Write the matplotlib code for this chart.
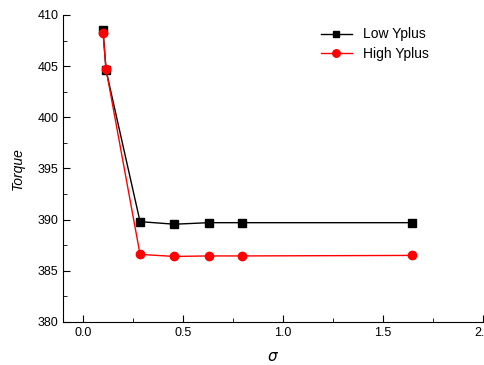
import matplotlib
matplotlib.use('Agg')
import matplotlib.pyplot as plt
from matplotlib.ticker import MultipleLocator

plt.rcParams['font.family'] = ['Liberation Sans', 'DejaVu Sans']

# Data
sigma_low = [0.10, 0.115, 0.285, 0.457, 0.628, 0.797, 1.647]
torque_low = [408.5, 404.6, 389.8, 389.55, 389.7, 389.7, 389.7]
sigma_high = [0.10, 0.115, 0.285, 0.457, 0.628, 0.797, 1.647]
torque_high = [408.2, 404.7, 386.6, 386.4, 386.45, 386.45, 386.5]

fig = plt.figure(figsize=(4.85, 3.65), dpi=100)
ax = fig.add_axes([0.13, 0.118, 0.866, 0.841])

ax.plot(sigma_low, torque_low, color='black', marker='s', markersize=5.5, linewidth=1, label='Low Yplus')
ax.plot(sigma_high, torque_high, color='red', marker='o', markersize=6, linewidth=1, label='High Yplus')

ax.set_xlim(-0.1, 2.0)
ax.set_ylim(380, 410)
ax.xaxis.set_major_locator(MultipleLocator(0.5))
ax.xaxis.set_minor_locator(MultipleLocator(0.25))
ax.yaxis.set_major_locator(MultipleLocator(5))
ax.yaxis.set_minor_locator(MultipleLocator(2.5))
ax.tick_params(which='both', direction='in', labelsize=9)
ax.tick_params(which='major', length=5)
ax.tick_params(which='minor', length=3)
ax.spines['top'].set_visible(False)
ax.spines['right'].set_visible(False)

ax.set_xlabel(r'$\sigma$', fontsize=11, labelpad=8)
ax.set_ylabel('Torque', fontsize=10, style='italic', labelpad=9)

ax.legend(loc='upper right', bbox_to_anchor=(0.9, 1.0), frameon=False, fontsize=10,
          handlelength=2.2, labelspacing=0.4, markerscale=0.9)

fig.savefig('out.png', dpi=100)
